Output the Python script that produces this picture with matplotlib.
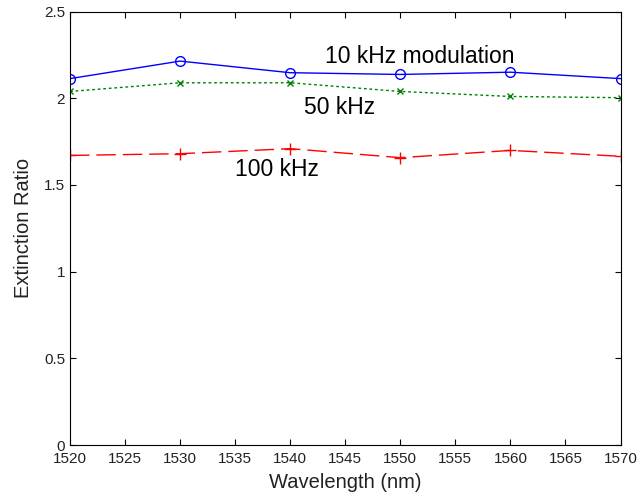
import numpy as np
import matplotlib
matplotlib.use('Agg')
import matplotlib.pyplot as plt

plt.rcParams['font.family'] = ['Liberation Sans', 'DejaVu Sans']

wavelength = [1520, 1530, 1540, 1550, 1560, 1570]
er_10k = [2.113, 2.214, 2.147, 2.137, 2.150, 2.113]
er_50k = [2.039, 2.089, 2.089, 2.039, 2.010, 2.003]
er_100k = [1.670, 1.680, 1.709, 1.657, 1.699, 1.665]

fig = plt.figure(figsize=(6.37, 4.98), dpi=100)
ax = fig.add_axes([0.1099, 0.1064, 0.8642, 0.8705])

ax.plot(wavelength, er_10k, color='blue', lw=1, marker='o', ms=7, mfc='none', mew=1)
ax.plot(wavelength, er_50k, color='green', lw=1, ls=(0, (2, 2)), marker='x', ms=4, mew=1)
ax.plot(wavelength, er_100k, color='red', lw=1, ls=(0, (14, 5)), marker='+', ms=9, mew=1)

# series labels placed inline next to each curve
ax.text(1543.2, 2.202, '10 kHz modulation', fontsize=16.5, va='baseline')
ax.text(1541.25, 1.911, '50 kHz', fontsize=16.5, va='baseline')
ax.text(1535.0, 1.550, '100 kHz', fontsize=16.5, va='baseline')

ax.set_xlim(1520, 1570)
ax.set_ylim(0, 2.5)
ax.set_xticks(np.arange(1520, 1571, 5))
ax.set_yticks([0, 0.5, 1, 1.5, 2, 2.5])
ax.set_yticklabels(['0', '0.5', '1', '1.5', '2', '2.5'])
ax.tick_params(direction='in', labelsize=11, length=4, top=True, right=True,
               labelcolor='#222222')
ax.tick_params(axis='x', pad=5)
ax.set_xlabel('Wavelength (nm)', fontsize=14.5, labelpad=5, color='#222222')
ax.set_ylabel('Extinction Ratio', fontsize=14.5, labelpad=8, color='#222222')

fig.savefig('out.png', dpi=100)
